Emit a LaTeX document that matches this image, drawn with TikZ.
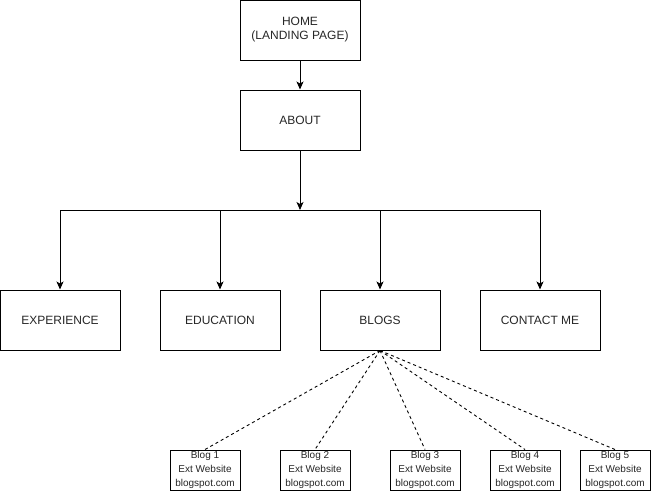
\documentclass[tikz,border=0pt]{standalone}
\usepackage{fontspec}
\setmainfont{Liberation Sans}
\usetikzlibrary{arrows.meta}
\begin{document}
\begin{tikzpicture}[x=1pt,y=-1pt,
  bigbox/.style={draw,line width=1pt,minimum width=120pt,minimum height=60pt,inner sep=0pt,align=center,font=\fontsize{12}{14}\selectfont,text=black!85},
  blogbox/.style={draw,line width=1pt,minimum width=70pt,minimum height=40pt,inner sep=0pt,align=center,font=\fontsize{10}{14}\selectfont,text=black!85},
  arr/.style={line width=1pt,-{Stealth[length=8pt,width=7pt,inset=2pt]}},
  link/.style={line width=1pt},
  dashlink/.style={line width=0.9pt,dash pattern=on 3pt off 3pt}]
\useasboundingbox (0,0) rectangle (651,491);
\node[bigbox] (home) at (300,30) {HOME\\(LANDING PAGE)};
\node[bigbox] (about) at (300,120) {ABOUT};
\node[bigbox] (exp) at (60,320) {EXPERIENCE};
\node[bigbox] (edu) at (220,320) {EDUCATION};
\node[bigbox] (blogs) at (380,320) {BLOGS};
\node[bigbox] (contact) at (540,320) {CONTACT ME};
\coordinate (j) at (300,210);
\coordinate (jl) at (60,210);
\coordinate (je) at (220,210);
\coordinate (jb) at (380,210);
\coordinate (jr) at (540,210);
\node[blogbox] (b1) at (205,470) {Blog 1\\Ext Website\\blogspot.com};
\node[blogbox] (b2) at (315,470) {Blog 2\\Ext Website\\blogspot.com};
\node[blogbox] (b3) at (425,470) {Blog 3\\Ext Website\\blogspot.com};
\node[blogbox] (b4) at (525,470) {Blog 4\\Ext Website\\blogspot.com};
\node[blogbox] (b5) at (615,470) {Blog 5\\Ext Website\\blogspot.com};
\draw[arr] (home) -- (about);
\draw[link] (jl) -- (jr);
\draw[arr] (about) -- (j);
\draw[arr] (jl) -- (exp);
\draw[arr] (je) -- (edu);
\draw[arr] (jb) -- (blogs);
\draw[arr] (jr) -- (contact);
\foreach \b in {b1,b2,b3,b4,b5}
  \draw[dashlink] (blogs.south) -- (\b.north);
\end{tikzpicture}
\end{document}
